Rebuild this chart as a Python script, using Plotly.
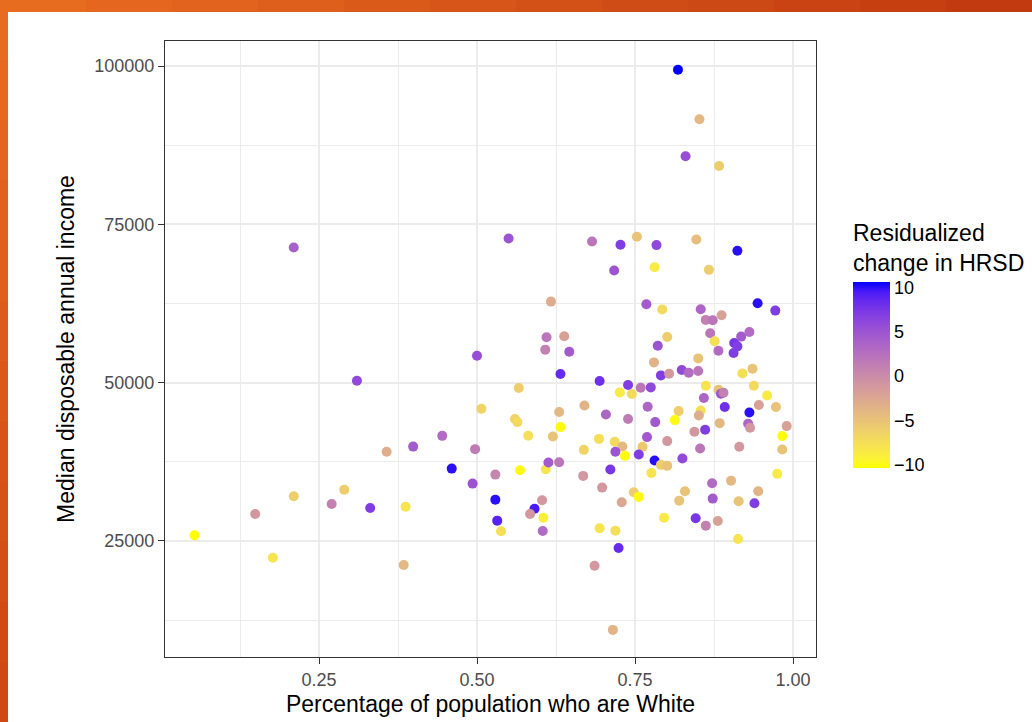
import numpy as np
import plotly.graph_objects as go

# ---------------- data ----------------
pct_white = [
    0.210, 0.310, 0.445, 0.399, 0.357, 0.290, 0.270, 0.331, 0.387, 0.210,
    0.149, 0.053, 0.177, 0.384,
    0.550, 0.682, 0.727, 0.753, 0.717,
    0.818, 0.852, 0.830, 0.883, 0.784, 0.847, 0.912, 0.781, 0.867,
    0.768, 0.793, 0.854, 0.862, 0.873, 0.887, 0.944, 0.972, 0.869, 0.876,
    0.801, 0.786, 0.882, 0.907, 0.912, 0.906, 0.918, 0.931, 0.780, 0.850,
    0.936, 0.920, 0.791, 0.804, 0.824, 0.835, 0.850, 0.759, 0.775, 0.745,
    0.862, 0.882, 0.886, 0.890, 0.938, 0.959, 0.859, 0.770, 0.892, 0.819,
    0.854, 0.851, 0.931, 0.946, 0.973, 0.813, 0.782, 0.884, 0.929, 0.932,
    0.990, 0.844, 0.861,
    0.983, 0.769, 0.801, 0.762, 0.853, 0.915, 0.983, 0.756, 0.781, 0.791,
    0.801, 0.825, 0.776, 0.975, 0.872, 0.902, 0.945, 0.829, 0.820, 0.873,
    0.914, 0.939, 0.748, 0.756, 0.796, 0.846, 0.862, 0.881, 0.913,
    0.617, 0.610, 0.638, 0.608, 0.646, 0.500, 0.632, 0.694, 0.739, 0.726,
    0.566, 0.507, 0.670, 0.630, 0.704, 0.739, 0.560, 0.564, 0.632, 0.581,
    0.620,
    0.693, 0.718, 0.730, 0.719, 0.734, 0.669, 0.497, 0.460, 0.493, 0.529,
    0.568, 0.609, 0.613, 0.630, 0.668, 0.711, 0.698, 0.729, 0.529, 0.603,
    0.591, 0.584, 0.605, 0.532, 0.538, 0.604, 0.694, 0.719, 0.724, 0.686,
    0.715,
]
income = [
    71350, 50300, 41600, 39900, 39080, 33100, 30850, 30200, 30400, 32070,
    29270, 25900, 22350, 21200,
    72770, 72300, 71770, 73040, 67710,
    99400, 91600, 85740, 84200, 71720, 72600, 70830, 68230, 67810,
    62380, 61540, 61590, 59910, 59850, 60640, 62540, 61380, 57790, 56530,
    57220, 55840, 55050, 56270, 55730, 54690, 57270, 58010, 53200, 53830,
    52200, 51460, 51150, 51410, 52000, 51570, 51840, 49200, 49250, 48200,
    49520, 48880, 48250, 48400, 49520, 47980, 47570, 46190, 46150, 45510,
    45610, 44820, 45290, 46460, 46150, 44090, 43770, 43610, 43500, 42870,
    43140, 42240, 42560,
    41560, 41400, 40770, 39870, 39600, 39870, 39440, 38650, 37700, 37020,
    36860, 38020, 35750, 35600, 34120, 34530, 32860, 32860, 31370, 31690,
    31280, 30960, 32700, 31960, 28680, 28590, 27420, 28160, 25310,
    62800, 57160, 57320, 55210, 54890, 54260, 51370, 50260, 49630, 48460,
    49150, 45880, 46400, 45360, 44980, 44250, 44250, 43770, 42980, 41610,
    41500,
    41120, 40660, 39910, 39080, 38440, 39390, 39500, 36430, 34060, 35480,
    36180, 36340, 37380, 37440, 35280, 36280, 33430, 31120, 31530, 31430,
    30100, 29270, 28680, 28210, 26530, 26580, 27000, 26630, 23890, 21090,
    10960,
]
hrsd_change = [
    4, 6, 3, 4.5, -3, -6, 1, 7, -8, -6,
    -1, -10.3, -8, -4,
    5, 2, 7, -5, 5,
    10.6, -4, 5.5, -6, 6, -4.5, 10, -8.5, -6,
    4.5, -7, 3.5, 1, 2, -2, 10, 7, 2, -7.5,
    -6, 5, 3, 7.5, 7, 7, 4.5, 3, -3.5, -5,
    -5, -7.5, 7, -1, 6, 3, 2, 2, 6, -7,
    -8, -5, 5, 1, -7, -8.5, 3.5, 3.5, 8, -6,
    -7.5, -3, 10, -2, -5, -10, 4.5, -4, 3.5, -1,
    -2, -1, 7,
    -10, 4.5, -1, -5.5, 2, -1, -5, 7, 10, -6,
    -5, 6, -8, -8.5, 3, -4, -3.5, -5, -5, 4.5,
    -5, 7, -6, -10, -8.5, 7.5, 1, -2, -8,
    -3, 2, -2, 1, 4.5, 5.5, 8.5, 8, 7, -8.5,
    -6, -6.5, -3.5, -4, 3.5, 1.5, -6.5, -7, -10, -7.5,
    -5,
    -7.5, -7, -4, 5, -10, -6.5, 1.5, 10, 5, 0.5,
    -10, -8, 4.5, 2, -1, 7.5, -1, -2.5, 10, -1,
    9.5, -1, -9, 9, -7.5, 3, -8, -7.5, 8.5, -1,
    -3.5,
]

x_ticks = [0.25, 0.50, 0.75, 1.00]
x_tick_labels = ["0.25", "0.50", "0.75", "1.00"]
y_ticks = [25000, 50000, 75000, 100000]
y_tick_labels = ["25000", "50000", "75000", "100000"]
cbar_ticks = [-10, -5, 0, 5, 10]
cbar_tick_labels = ["\u221210", "\u22125", "0", "5", "10"]
c_min, c_max = -10.34, 10.6

# ---------------- colour scale: yellow -> blue interpolated in CIELAB ----------------
def _to_lin(c):
    c = c / 255.0
    return np.where(c <= 0.04045, c / 12.92, ((c + 0.055) / 1.055) ** 2.4)

def _from_lin(c):
    c = np.clip(c, 0, 1)
    return np.where(c <= 0.0031308, 12.92 * c, 1.055 * c ** (1 / 2.4) - 0.055) * 255

M = np.array([[0.4124564, 0.3575761, 0.1804375],
              [0.2126729, 0.7151522, 0.0721750],
              [0.0193339, 0.1191920, 0.9503041]])
WHITE = np.array([0.95047, 1.0, 1.08883])

def rgb_to_lab(rgb):
    xyz = M @ _to_lin(np.array(rgb, float)) / WHITE
    f = np.where(xyz > 216 / 24389, np.cbrt(xyz), (24389 / 27 * xyz + 16) / 116)
    return np.array([116 * f[1] - 16, 500 * (f[0] - f[1]), 200 * (f[1] - f[2])])

def lab_to_hex(lab):
    L, a, b = lab
    fy = (L + 16) / 116
    fx = fy + a / 500
    fz = fy - b / 200
    f = np.array([fx, fy, fz])
    xyz = np.where(f ** 3 > 216 / 24389, f ** 3, (116 * f - 16) / (24389 / 27)) * WHITE
    rgb = _from_lin(np.linalg.inv(M) @ xyz)
    r, g, bb = [int(round(v)) for v in rgb]
    return "#{:02X}{:02X}{:02X}".format(r, g, bb)

lab_lo = rgb_to_lab([255, 255, 0])
lab_hi = rgb_to_lab([0, 0, 255])
colorscale = [[t, lab_to_hex(lab_lo + (lab_hi - lab_lo) * t)] for t in np.linspace(0, 1, 21)]

# ---------------- figure geometry ----------------
W, H = 1032, 722
L_M, R_M, T_M, B_M = 165, 216, 41, 65
pw, ph = W - L_M - R_M, H - T_M - B_M

def px_x(px):
    return (px - L_M) / pw

def px_y(py):
    return (H - B_M - py) / ph

CB_LEFT, CB_W = 853, 37
CB_TOP, CB_BOT = 282, 468
TITLE_H = 61

fig = go.Figure()
fig.add_trace(go.Scatter(
    x=pct_white, y=income, mode="markers",
    marker=dict(
        size=10, color=hrsd_change, colorscale=colorscale,
        cmin=c_min, cmax=c_max, line=dict(width=0), opacity=1,
        colorbar=dict(
            title=dict(text="Residualized<br>change in HRSD", side="top",
                       font=dict(size=23, color="black", family="Liberation Sans")),
            tickvals=cbar_ticks, ticktext=cbar_tick_labels,
            tickfont=dict(size=18, color="black", family="Liberation Sans"),
            ticks="", ticklabelposition="outside",
            thickness=CB_W, thicknessmode="pixels",
            len=(CB_BOT - CB_TOP) + TITLE_H, lenmode="pixels",
            x=px_x(CB_LEFT), xanchor="left", xpad=0,
            y=px_y(CB_BOT), yanchor="bottom", ypad=0,
            outlinewidth=0,
        ),
    ),
    hoverinfo="skip", showlegend=False,
))

shapes = []
# white tick marks on both edges of the colour bar (ggplot style)
for v in cbar_ticks:
    py = CB_TOP + (c_max - v) / (c_max - c_min) * (CB_BOT - CB_TOP)
    for xa, xb in [(CB_LEFT, CB_LEFT + 7), (CB_LEFT + CB_W - 7, CB_LEFT + CB_W)]:
        shapes.append(dict(type="line", xref="paper", yref="paper",
                           x0=px_x(xa), x1=px_x(xb), y0=px_y(py), y1=px_y(py),
                           line=dict(color="white", width=1.2), layer="above"))

# slide frame (orange border at top and left)
def _mix(c1, c2, t):
    return "#{:02X}{:02X}{:02X}".format(*[int(round(a + (b - a) * t)) for a, b in zip(c1, c2)])

nseg = 12
for i in range(nseg):
    x0 = W * i / nseg
    x1 = W * (i + 1) / nseg + 1
    shapes.append(dict(type="rect", xref="paper", yref="paper",
                       x0=px_x(x0), x1=px_x(x1), y0=px_y(12), y1=px_y(-2),
                       fillcolor=_mix((232, 108, 32), (194, 58, 16), i / (nseg - 1)),
                       line=dict(width=0), layer="above"))
for i in range(nseg):
    y0 = H * i / nseg
    y1 = H * (i + 1) / nseg + 1
    shapes.append(dict(type="rect", xref="paper", yref="paper",
                       x0=px_x(-2), x1=px_x(8), y0=px_y(y1), y1=px_y(y0),
                       fillcolor=_mix((232, 108, 32), (208, 72, 18), i / (nseg - 1)),
                       line=dict(width=0), layer="above"))

axis_common = dict(
    showline=True, linecolor="#333333", linewidth=1.2, mirror=True,
    ticks="outside", ticklen=6, tickwidth=1.1, tickcolor="#333333",
    tickfont=dict(size=18, color="#4D4D4D", family="Liberation Sans"),
    showgrid=True, gridcolor="#EBEBEB", gridwidth=2,
    zeroline=False, automargin=False,
)

fig.update_layout(
    width=W, height=H,
    margin=dict(l=L_M, r=R_M, t=T_M, b=B_M, pad=0, autoexpand=False),
    paper_bgcolor="white", plot_bgcolor="white",
    font=dict(family="Liberation Sans", color="black"),
    shapes=shapes,
    xaxis=dict(
        axis_common,
        range=[0.0063, 1.0364],
        tickvals=x_ticks, ticktext=x_tick_labels,
        minor=dict(tickvals=[0.125, 0.375, 0.625, 0.875], showgrid=True,
                   gridcolor="#EBEBEB", gridwidth=1, ticks=""),
        title=dict(text="Percentage of population who are White",
                   font=dict(size=23, color="black", family="Liberation Sans"),
                   standoff=7),
    ),
    yaxis=dict(
        axis_common,
        range=[6680, 103950],
        tickvals=y_ticks, ticktext=y_tick_labels,
        minor=dict(tickvals=[12500, 37500, 62500, 87500], showgrid=True,
                   gridcolor="#EBEBEB", gridwidth=1, ticks=""),
        title=dict(text="Median disposable annual income",
                   font=dict(size=23, color="black", family="Liberation Sans"),
                   standoff=13),
    ),
)

fig.write_html("out.html")
